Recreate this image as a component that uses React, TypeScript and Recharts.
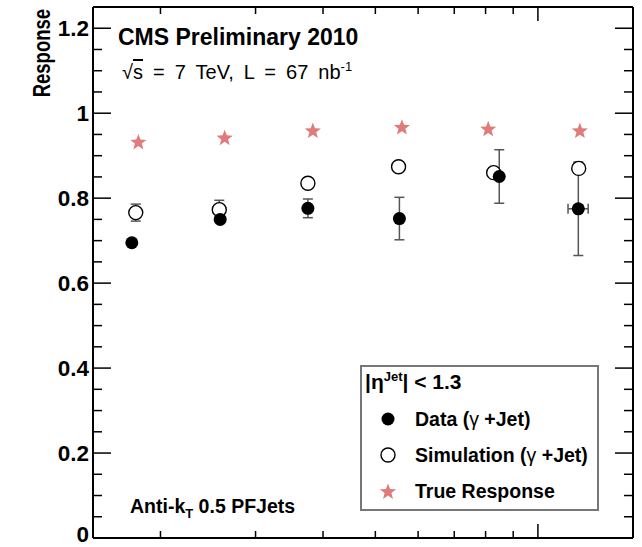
import React from "react";
import { ScatterChart, Scatter, XAxis, YAxis, ErrorBar, Legend } from "recharts";

// photon+jet response vs pT (log x axis), |eta| < 1.3
const ptData = [17.7, 25.8, 37.5, 55.4, 84.8, 118.8];
const respData = [0.695, 0.75, 0.776, 0.752, 0.851, 0.775];
const respErrData = [null, null, 0.022, 0.05, 0.063, 0.11];
const ptErrData = [null, null, null, null, null, 5.1];

const ptSim = [18.0, 25.7, 37.5, 55.2, 82.8, 119.0];
const respSim = [0.766, 0.773, 0.835, 0.874, 0.86, 0.87];
const respErrSim = [0.02, 0.022, null, null, null, null];

const ptTrue = [18.2, 26.3, 38.3, 56.0, 80.9, 119.6];
const respTrue = [0.931, 0.941, 0.958, 0.966, 0.962, 0.958];

const xTicks = [20, 30, 40, 50, 60, 70, 80, 90, 100];
const yTicks = [
  0, 0.05, 0.1, 0.15, 0.2, 0.25, 0.3, 0.35, 0.4, 0.45, 0.5, 0.55, 0.6, 0.65,
  0.7, 0.75, 0.8, 0.85, 0.9, 0.95, 1, 1.05, 1.1, 1.15, 1.2, 1.25,
];

const FONT = "'Liberation Sans', Arial, Helvetica, sans-serif";
const STAR = "#e07b7b";

const dataPts = ptData.map((pt, i) => ({ pt, resp: respData[i], err: respErrData[i], ptErr: ptErrData[i] }));
const simPts = ptSim.map((pt, i) => ({ pt, resp: respSim[i], err: respErrSim[i] }));
const truePts = ptTrue.map((pt, i) => ({ pt, resp: respTrue[i] }));

const isMajorY = (v: number) => Math.abs(v / 0.2 - Math.round(v / 0.2)) < 1e-6;
const yLabel = (v: number) => (v === 0 ? "0" : v === 1 ? "1" : v.toFixed(1));

const BottomTick = ({ x, y, payload }: any) => {
  const len = payload.value === 100 ? 14 : 7;
  return <line x1={x} x2={x} y1={y} y2={y - len} stroke="#000" strokeWidth={1.5} />;
};
const TopTick = ({ x, y, payload }: any) => {
  const len = payload.value === 100 ? 14 : 7;
  return <line x1={x} x2={x} y1={y} y2={y + len} stroke="#000" strokeWidth={1.5} />;
};
const LeftTick = ({ x, y, payload }: any) => {
  const major = isMajorY(payload.value);
  return (
    <g>
      <line x1={x} x2={x + (major ? 18 : 9)} y1={y} y2={y} stroke="#000" strokeWidth={1.5} />
      {major && (
        <text
          x={x - 4}
          y={payload.value === 0 ? y - 4 : y}
          dy="0.35em"
          textAnchor="end"
          fontFamily={FONT}
          fontWeight="bold"
          fontSize={22.5}
          fill="#000"
        >
          {yLabel(payload.value)}
        </text>
      )}
    </g>
  );
};
const RightTick = ({ x, y, payload }: any) => {
  const major = isMajorY(payload.value);
  return <line x1={x} x2={x - (major ? 18 : 9)} y1={y} y2={y} stroke="#000" strokeWidth={1.5} />;
};

const starPath = (cx: number, cy: number, ro: number, ri: number) => {
  let d = "";
  for (let k = 0; k < 10; k++) {
    const r = k % 2 === 0 ? ro : ri;
    const a = -Math.PI / 2 + (k * Math.PI) / 5;
    d += (k === 0 ? "M" : "L") + (cx + r * Math.cos(a)).toFixed(2) + "," + (cy + r * Math.sin(a)).toFixed(2);
  }
  return d + "Z";
};

const StarShape = ({ cx, cy }: any) => <path d={starPath(cx, cy, 8.5, 3.6)} fill={STAR} />;
const FilledShape = ({ cx, cy }: any) => <circle cx={cx} cy={cy} r={6.5} fill="#000" />;
const OpenShape = ({ cx, cy }: any) => <circle cx={cx} cy={cy} r={7} fill="#fff" stroke="#000" strokeWidth={1.4} />;

const renderLegend = () => (
  <svg width={240} height={147} style={{ display: "block" }}>
    <rect x={1} y={1} width={237} height={144} fill="#fff" stroke="#777" strokeWidth={2} />
    <text x={5} y={24} fontFamily={FONT} fontWeight="bold" fontSize={21} fill="#000">
      |η<tspan dy={-8} fontSize={13}>Jet</tspan>
      <tspan dy={8}>| &lt; 1.3</tspan>
    </text>
    <circle cx={28} cy={54} r={6.5} fill="#000" />
    <text x={55} y={61} fontFamily={FONT} fontWeight="bold" fontSize={19.5} fill="#000">
      Data (<tspan fontWeight="normal">γ</tspan> +Jet)
    </text>
    <circle cx={28} cy={90} r={7} fill="#fff" stroke="#000" strokeWidth={1.4} />
    <text x={55} y={97} fontFamily={FONT} fontWeight="bold" fontSize={19.5} fill="#000">
      Simulation (<tspan fontWeight="normal">γ</tspan> +Jet)
    </text>
    <path d={starPath(28, 127, 8.5, 3.6)} fill={STAR} />
    <text x={55} y={133} fontFamily={FONT} fontWeight="bold" fontSize={19.5} fill="#000">
      True Response
    </text>
  </svg>
);

export default function App() {
  return (
    <div style={{ position: "absolute", left: 0, top: 0, width: 642, height: 547, background: "#fff" }}>
      <ScatterChart width={642} height={547} margin={{ top: 0, right: 0, bottom: 0, left: 0 }}>
        <XAxis
          xAxisId="b"
          dataKey="pt"
          type="number"
          scale="log"
          domain={[15, 150]}
          allowDataOverflow
          ticks={xTicks}
          interval={0}
          height={9}
          tickSize={0}
          tickMargin={0}
          tick={<BottomTick />}
          axisLine={{ stroke: "#000", strokeWidth: 2 }}
        />
        <XAxis
          xAxisId="t"
          orientation="top"
          dataKey="pt"
          type="number"
          scale="log"
          domain={[15, 150]}
          allowDataOverflow
          ticks={xTicks}
          interval={0}
          height={7}
          tickSize={0}
          tickMargin={0}
          tick={<TopTick />}
          axisLine={{ stroke: "#000", strokeWidth: 2 }}
        />
        <YAxis
          yAxisId="l"
          dataKey="resp"
          type="number"
          domain={[0, 1.25]}
          allowDataOverflow
          ticks={yTicks}
          interval={0}
          width={93}
          tickSize={0}
          tickMargin={0}
          tick={<LeftTick />}
          axisLine={{ stroke: "#000", strokeWidth: 2 }}
        />
        <YAxis
          yAxisId="r"
          orientation="right"
          dataKey="resp"
          type="number"
          domain={[0, 1.25]}
          allowDataOverflow
          ticks={yTicks}
          interval={0}
          width={9}
          tickSize={0}
          tickMargin={0}
          tick={<RightTick />}
          axisLine={{ stroke: "#000", strokeWidth: 2 }}
        />
        <Legend
          layout="vertical"
          align="center"
          verticalAlign="middle"
          content={renderLegend}
          wrapperStyle={{ left: 360, top: 365, right: "auto", bottom: "auto", width: 240, height: 147 }}
        />
        <Scatter name="Simulation (γ+Jet)" data={simPts} xAxisId="b" yAxisId="l" shape={<OpenShape />} isAnimationActive={false}>
          <ErrorBar dataKey="err" direction="y" width={5} stroke="#555" strokeWidth={1.5} />
        </Scatter>
        <Scatter name="True Response" data={truePts} xAxisId="b" yAxisId="l" shape={<StarShape />} isAnimationActive={false} />
        <Scatter name="Data (γ+Jet)" data={dataPts} xAxisId="b" yAxisId="l" shape={<FilledShape />} isAnimationActive={false}>
          <ErrorBar dataKey="err" direction="y" width={5} stroke="#555" strokeWidth={1.5} />
          <ErrorBar dataKey="ptErr" direction="x" width={5} stroke="#555" strokeWidth={1.5} />
        </Scatter>
      </ScatterChart>
      <svg width={642} height={547} style={{ position: "absolute", left: 0, top: 0, pointerEvents: "none" }}>
        <text x={118} y={45} fontFamily={FONT} fontWeight="bold" fontSize={23} fill="#000">
          CMS Preliminary 2010
        </text>
        <text x={122} y={79} fontFamily={FONT} fontSize={20} fill="#000" style={{ wordSpacing: 4.5 }}>
          √<tspan style={{ textDecoration: "overline" }}>s</tspan> = 7 TeV, L = 67 nb
          <tspan dy={-8} fontSize={13}>-1</tspan>
        </text>
        <text x={130} y={513} fontFamily={FONT} fontWeight="bold" fontSize={19.5} fill="#000">
          Anti-k<tspan dy={5} fontSize={13}>T</tspan>
          <tspan dy={-5}> 0.5 PFJets</tspan>
        </text>
        <text
          transform="translate(50,9) rotate(-90) scale(0.77,1)"
          textAnchor="end"
          fontFamily={FONT}
          fontWeight="bold"
          fontSize={24}
          fill="#000"
        >
          Response
        </text>
      </svg>
    </div>
  );
}
